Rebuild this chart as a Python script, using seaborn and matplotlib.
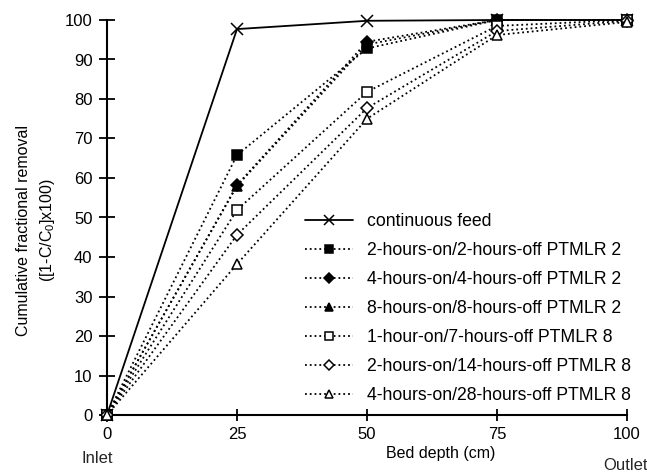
import matplotlib
matplotlib.use("Agg")
import matplotlib.pyplot as plt
import seaborn as sns
import pandas as pd

sns.set_theme(style="white")
plt.rcParams['font.family'] = ['Liberation Sans', 'DejaVu Sans']

depth = [0, 25, 50, 75, 100]
continuous = [0, 97.7, 99.8, 100, 100]
s_2on2off = [0, 65.8, 92.8, 100, 100]
s_4on4off = [0, 58.2, 94.5, 100, 100]
s_8on8off = [0, 58.0, 93.8, 100, 100]
s_1on7off = [0, 51.9, 81.8, 98.5, 100]
s_2on14off = [0, 45.6, 77.7, 97.2, 99.8]
s_4on28off = [0, 38.2, 75.0, 96.2, 99.5]

labels = ["continuous feed",
          "2-hours-on/2-hours-off PTMLR 2",
          "4-hours-on/4-hours-off PTMLR 2",
          "8-hours-on/8-hours-off PTMLR 2",
          "1-hour-on/7-hours-off PTMLR 8",
          "2-hours-on/14-hours-off PTMLR 8",
          "4-hours-on/28-hours-off PTMLR 8"]
series = [continuous, s_2on2off, s_4on4off, s_8on8off, s_1on7off, s_2on14off, s_4on28off]
markers = ['x', 's', 'D', '^', 's', 'D', '^']
filled = [True, True, True, True, False, False, False]
styles = ['-', ':', ':', ':', ':', ':', ':']
msizes = [9, 7.5, 6.5, 7.5, 7.5, 6.5, 7.5]
zorders = [2.5, 2.4, 2.3, 2.1, 2.6, 2.7, 2.8]

fig = plt.figure(figsize=(6.47, 4.73), dpi=100)
ax = fig.add_axes([107/647, 1-415/473, (627-107)/647, (415-20)/473])

for vals, lab, mk, fl, ls, ms, zo in zip(series, labels, markers, filled, styles, msizes, zorders):
    df = pd.DataFrame({"depth": depth, "removal": vals})
    sns.lineplot(data=df, x="depth", y="removal", ax=ax, color="black",
                 linestyle=ls, linewidth=1.3, marker=mk, markersize=ms,
                 markerfacecolor=("black" if fl else "white"),
                 markeredgecolor="black", markeredgewidth=1.1,
                 label=lab, clip_on=False, zorder=zo)

ax.set_xlim(0, 100)
ax.set_ylim(0, 100)
ax.set_xticks([0, 25, 50, 75, 100])
ax.set_yticks(range(0, 101, 10))
for s in ['top', 'right']:
    ax.spines[s].set_visible(False)
for s in ['left', 'bottom']:
    ax.spines[s].set_color('black')
    ax.spines[s].set_linewidth(1.5)
ax.tick_params(axis='both', direction='inout', width=1.3,
               colors='black', labelsize=12, left=True, bottom=True)
ax.tick_params(axis='y', length=11, pad=5)
ax.tick_params(axis='x', length=9, pad=4)

ax.set_xlabel("Bed depth (cm)", fontsize=11.5, color='black')
ax.xaxis.set_label_coords((441-107)/520, (415-453)/395)
ax.xaxis.label.set_va('center')
ax.set_ylabel("Cumulative fractional removal\n([1-C/C$_{\\mathregular{0}}$]x100)",
              fontsize=11.5, color='black', linespacing=1.5)
ax.yaxis.set_label_coords((57-107)/520, (415-230)/395)

fig.text(97/647, 1-458/473, "Inlet", ha='center', va='center', fontsize=12)
fig.text(626/647, 1-465/473, "Outlet", ha='center', va='center', fontsize=12)

leg = ax.legend(loc='upper left', bbox_to_anchor=((305-107)/520, (415-213)/395),
                frameon=False, fontsize=12.7, labelspacing=0.68, handlelength=2.7,
                handletextpad=0.8, borderaxespad=0, borderpad=0, markerscale=0.85)
for t in leg.get_texts():
    t.set_color('black')

fig.savefig("out.png", dpi=100)
